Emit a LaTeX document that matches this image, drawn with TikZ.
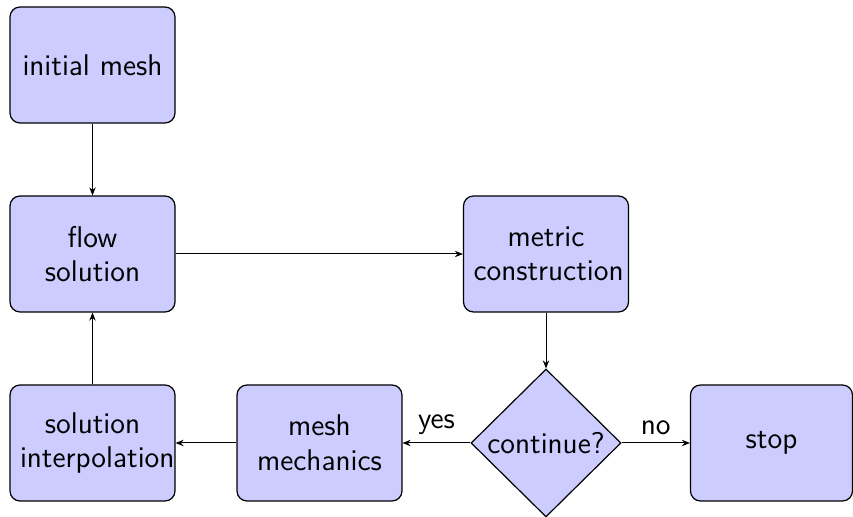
\documentclass[tikz,border=0pt]{standalone}
\usetikzlibrary{shapes.geometric,arrows.meta}
\begin{document}
\begin{tikzpicture}[x=0.5pt,y=-0.5pt,
  font=\sffamily\fontsize{15}{17.3}\selectfont,
  block/.style={rectangle, draw=black, line width=0.6pt, fill=blue!20,
    rounded corners=5pt, minimum width=82.5pt, minimum height=58pt,
    text width=72.5pt, align=center, inner sep=0pt},
  decision/.style={diamond, draw=black, line width=0.6pt, fill=blue!20,
    aspect=1, minimum width=75pt, minimum height=74pt, inner sep=0pt, align=center},
  link/.style={draw=black, line width=0.5pt, -{Stealth[length=4pt,width=3.2pt]}}]
  \useasboundingbox (0,0) rectangle (853,517);

  % process steps
  \node[block] (init)   at (92.5,65)   {initial mesh};
  \node[block] (flow)   at (92.5,254)  {flow\\solution};
  \node[block] (metric) at (546,254)   {metric\\construction};
  \node[decision] (cont) at (546,443)  {continue?};
  \node[block] (mech)   at (319.5,443) {mesh\\mechanics};
  \node[block] (interp) at (92.5,443)  {solution\\interpolation};
  \node[block, minimum width=81pt] (stop) at (771.5,443) {stop};

  % flow of control
  \draw[link] (init) -- (flow);
  \draw[link] (flow) -- (metric);
  \draw[link] (metric) -- (cont);
  \draw[link] (cont) -- node[above=0.5pt] {yes} (mech);
  \draw[link] (cont) -- node[above=0.5pt] {no} (stop);
  \draw[link] (mech) -- (interp);
  \draw[link] (interp) -- (flow);
\end{tikzpicture}
\end{document}
